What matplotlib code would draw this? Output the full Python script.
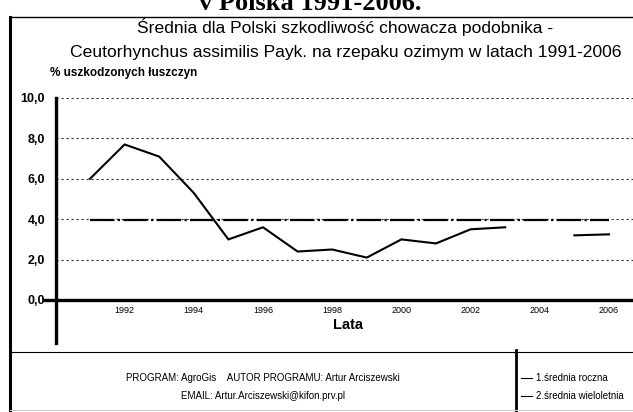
import numpy as np
import matplotlib
matplotlib.use("Agg")
import matplotlib.pyplot as plt
from matplotlib.lines import Line2D

plt.rcParams["font.family"] = ["Liberation Sans", "DejaVu Sans"]

# data
years = [1991, 1992, 1993, 1994, 1995, 1996, 1997, 1998, 1999,
         2000, 2001, 2002, 2003, 2004, 2005, 2006]
annual = [6.0, 7.7, 7.1, 5.3, 3.0, 3.6, 2.4, 2.5, 2.1,
          3.0, 2.8, 3.5, 3.6, np.nan, 3.2, 3.25]
longterm = 3.95
yticks = [0, 2, 4, 6, 8, 10]
xticks = [1992, 1994, 1996, 1998, 2000, 2002, 2004, 2006]

W, H = 633, 412
fig = plt.figure(figsize=(W / 100, H / 100), dpi=100)
fig.patch.set_facecolor("white")

def fx(px):
    return px / W

def fy(py):
    return 1 - py / H

# ─── axes ──────────────────────────────────────────────
ax = fig.add_axes([fx(56), fy(343), 1 - fx(56), (343 - 98) / H])
ax.set_xlim(1991 - 34 / 34.6, 1991 + 543 / 34.6)
ax.set_ylim(-43 / 20.2, 10)

ax.plot(years, annual, color="black", lw=1.5, solid_joinstyle="miter")
ax.plot([years[0], years[-1]], [longterm, longterm], color="black", lw=1.6,
        linestyle=(0, (11, 1.5, 1, 1.5)))

for y in yticks[1:]:
    ax.axhline(y, color="#333333", lw=0.8, linestyle=(0, (2, 2.5)), zorder=0)

for s in ["top", "right"]:
    ax.spines[s].set_visible(False)
ax.spines["left"].set_linewidth(2.4)
ax.spines["bottom"].set_position(("data", 0))
ax.spines["bottom"].set_linewidth(2.4)
fig.add_artist(Line2D([fx(44), fx(57)], [fy(300), fy(300)], color="black", lw=2.4))

ax.set_yticks(yticks)
ax.set_yticklabels([f"{v:.1f}".replace(".", ",") for v in yticks],
                   fontsize=9, fontweight="bold")
ax.tick_params(axis="y", length=0, pad=8)
ax.set_xticks(xticks)
ax.set_xticklabels([str(v) for v in xticks], fontsize=6.5)
ax.tick_params(axis="x", length=0, pad=4)

# ─── texts ─────────────────────────────────────────────
fig.text(fx(310), fy(10), "v Polska 1991-2006.", ha="center", va="baseline",
         fontsize=19, fontweight="bold", family="Liberation Serif")
fig.text(fx(345), fy(27), "Średnia dla Polski szkodliwość chowacza podobnika -",
         ha="center", va="center", fontsize=12.6)
fig.text(fx(346), fy(53), "Ceutorhynchus assimilis Payk. na rzepaku ozimym w latach 1991-2006",
         ha="center", va="center", fontsize=12.6)
fig.text(fx(50), fy(76), "% uszkodzonych łuszczyn", ha="left", va="baseline",
         fontsize=8.5, fontweight="bold")
fig.text(fx(348), fy(325), "Lata", ha="center", va="center",
         fontsize=10.5, fontweight="bold")

# ─── frame & footer ────────────────────────────────────
fig.add_artist(Line2D([fx(10), fx(10)], [fy(17), 0], color="black", lw=2.2))
fig.add_artist(Line2D([fx(10), 1], [fy(17), fy(17)], color="black", lw=1))
fig.add_artist(Line2D([fx(10), 1], [fy(352), fy(352)], color="black", lw=0.8))
fig.add_artist(Line2D([fx(516), fx(516)], [fy(350), 0], color="black", lw=2))
fig.add_artist(Line2D([fx(10), 1], [fy(410), fy(410)], color="#cccccc", lw=0.8))

fig.text(fx(263), fy(378), "PROGRAM: AgroGis    AUTOR PROGRAMU: Artur Arciszewski",
         ha="center", va="center", fontsize=7)
fig.text(fx(263), fy(396), "EMAIL: Artur.Arciszewski@kifon.prv.pl",
         ha="center", va="center", fontsize=7)

legend_labels = ["1.średnia roczna", "2.średnia wieloletnia"]
for i, lab in enumerate(legend_labels):
    yy = fy(378 + i * 18)
    fig.add_artist(Line2D([fx(521), fx(532)], [yy, yy], color="black", lw=0.8))
    fig.text(fx(536), yy, lab, ha="left", va="center", fontsize=7)

fig.savefig("out.png", dpi=100, facecolor="white")
